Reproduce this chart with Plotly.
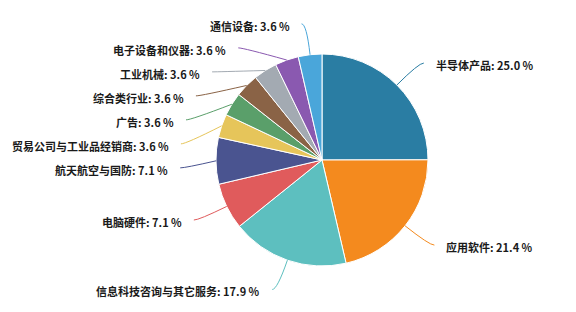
import math
import plotly.graph_objects as go

# ---- data ----
categories = ["半导体产品", "应用软件", "信息科技咨询与其它服务", "电脑硬件", "航天航空与国防",
              "贸易公司与工业品经销商", "广告", "综合类行业", "工业机械", "电子设备和仪器", "通信设备"]
percents = [25.0, 21.4, 17.9, 7.1, 7.1, 3.6, 3.6, 3.6, 3.6, 3.6, 3.6]
colors = ["#2a7da3", "#f48a1e", "#5dbfbf", "#e05b5c", "#4a5490", "#e6c55a",
          "#5a9f6a", "#8a6346", "#a3aab2", "#8a59b0", "#4aa6da"]

# ---- layout constants ----
W, H = 576, 312
CX, CY, R = 322, 160, 106
R_LABEL = 137
LEN2 = 5
GAP = 10
SPACING = 24
FONT = "Noto Sans CJK SC, Noto Sans, sans-serif"

fig = go.Figure()
fig.add_trace(go.Pie(
    labels=categories, values=percents, sort=False, direction="clockwise", rotation=0,
    marker=dict(colors=colors, line=dict(color="white", width=1)),
    textinfo="none", hoverinfo="label+percent", showlegend=False,
    domain=dict(x=[(CX - R) / W, (CX + R) / W], y=[1 - (CY + R) / H, 1 - (CY - R) / H]),
))

# label layout computed from slice mid-angles (echarts-like)
total = sum(percents)
cum = 0.0
items = []
for i, v in enumerate(percents):
    mid = (cum + v / 2) / total * 2 * math.pi
    cum += v
    items.append(dict(i=i, a=mid, left=math.sin(mid) < 0,
                      y=CY - R_LABEL * math.cos(mid)))

for side in (True, False):
    group = sorted([it for it in items if it["left"] == side], key=lambda d: d["y"])
    prev = None
    for it in group:
        if prev is not None and it["y"] < prev + SPACING:
            it["y"] = prev + SPACING
        prev = it["y"]


def px(x, y):
    return x / W, 1 - y / H


shapes = []
annotations = []
for it in items:
    a = it["a"]
    x0, y0 = CX + R * math.sin(a), CY - R * math.cos(a)
    dy = it["y"] - CY
    dx = math.sqrt(max(R_LABEL ** 2 - dy ** 2, 0))
    sgn = -1 if it["left"] else 1
    x1, y1 = CX + sgn * dx, it["y"]
    x2, y2 = x1 + sgn * LEN2, y1
    p0, p1, p2 = px(x0, y0), px(x1, y1), px(x2, y2)
    shapes.append(dict(type="path", xref="paper", yref="paper",
                       path=f"M {p0[0]},{p0[1]} Q {p1[0]},{p1[1]} {p2[0]},{p2[1]}",
                       line=dict(color=colors[it["i"]], width=1)))
    tx, ty = px(x2 + sgn * GAP, y2 + 2)
    annotations.append(dict(
        x=tx, y=ty, xref="paper", yref="paper", showarrow=False,
        xanchor="right" if it["left"] else "left", yanchor="middle",
        text=f"{categories[it['i']]}: {percents[it['i']]:.1f} %",
        font=dict(family=FONT, size=11, color="#1a1a1a", weight=700),
    ))

fig.update_layout(
    width=W, height=H, margin=dict(l=0, r=0, t=0, b=0),
    paper_bgcolor="white", plot_bgcolor="white",
    shapes=shapes, annotations=annotations,
)
fig.write_html("out.html")
